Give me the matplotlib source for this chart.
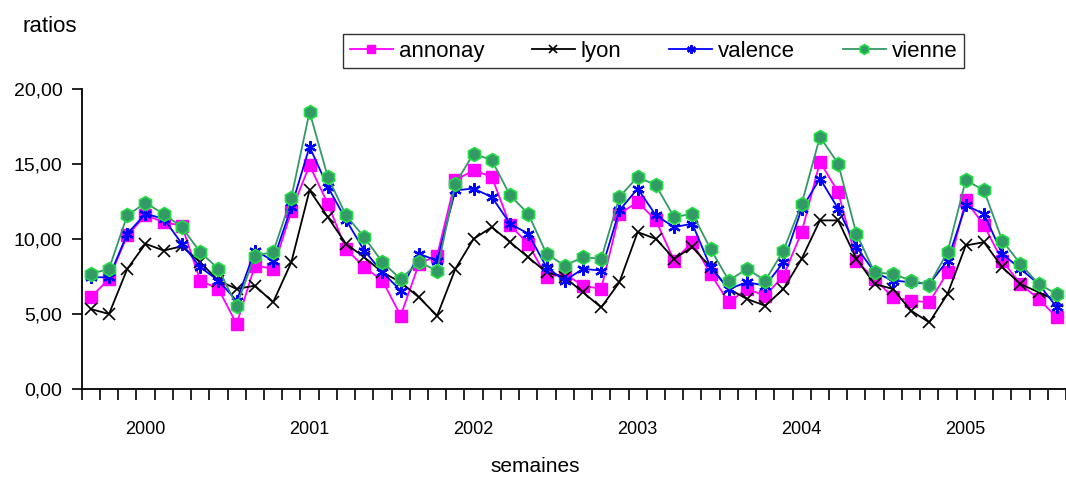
import numpy as np
import matplotlib.pyplot as plt

# valeurs (une valeur par periode)
annonay = [6.13, 7.36, 10.26, 11.6, 11.15, 10.9, 7.25, 6.69, 4.35, 8.25,
           8.03, 11.88, 14.94, 12.37, 9.36, 8.14, 7.25, 4.9, 8.36, 8.92,
           13.94, 14.6, 14.16, 10.93, 9.7, 7.47, 7.69, 6.91, 6.69, 11.7,
           12.49, 11.26, 8.58, 9.81, 7.69, 5.8, 6.69, 6.24, 7.58, 10.48,
           15.16, 13.15, 8.58, 7.36, 6.13, 5.91, 5.8, 7.8, 12.6, 10.93,
           8.58, 7.02, 6.02, 4.79]
lyon = [5.35, 5.02, 8.03, 9.7, 9.25, 9.54, 8.47, 7.25, 6.69, 6.91,
        5.8, 8.47, 13.27, 11.48, 9.7, 8.8, 7.8, 7.14, 6.13, 4.9,
        8.03, 10.03, 10.81, 9.81, 8.8, 7.8, 7.47, 6.47, 5.46, 7.14,
        10.48, 10.03, 8.7, 9.48, 8.14, 6.69, 6.02, 5.57, 6.69, 8.7,
        11.26, 11.26, 8.7, 7.02, 6.69, 5.24, 4.46, 6.35, 9.59, 9.81,
        8.14, 7.02, 6.47, 5.91]
valence = [7.47, 7.47, 10.37, 11.7, 11.37, 9.7, 8.14, 7.25, 5.9, 9.25,
           8.58, 12.15, 16.17, 13.5, 11.3, 9.25, 7.8, 6.58, 9.03, 8.58,
           13.27, 13.38, 12.82, 11.04, 10.37, 8.14, 7.25, 8.03, 7.92, 11.93,
           13.38, 11.6, 10.81, 11.04, 8.14, 6.69, 7.14, 6.91, 8.47, 12.04,
           14.05, 12.04, 9.48, 7.8, 7.25, 7.14, 7.02, 8.58, 12.26, 11.7,
           9.03, 8.03, 7.02, 5.46]
vienne = [7.69, 8.03, 11.6, 12.42, 11.7, 10.8, 9.14, 8.03, 5.57, 8.92,
          9.14, 12.78, 18.5, 14.16, 11.6, 10.14, 8.47, 7.36, 8.47, 7.92,
          13.71, 15.72, 15.27, 12.93, 11.7, 9.03, 8.25, 8.8, 8.7, 12.82,
          14.16, 13.6, 11.48, 11.7, 9.36, 7.25, 8.03, 7.25, 9.25, 12.37,
          16.83, 15.05, 10.37, 7.8, 7.69, 7.25, 6.98, 9.14, 13.94, 13.27,
          9.92, 8.36, 7.02, 6.35]
annees = ['2000', '2001', '2002', '2003', '2004', '2005']
yticks = [0, 5, 10, 15, 20]

plt.rcParams['font.family'] = ['Liberation Sans', 'DejaVu Sans']

x = np.arange(len(annonay))

fig = plt.figure(figsize=(10.66, 4.8), dpi=100)
ax = fig.add_axes([81.7 / 1066, 1 - 389.3 / 480, 1 - 81.7 / 1066,
                   (389.3 - 89.3) / 480])

ax.plot(x, annonay, color='#FF00FF', lw=1.3, marker='s', ms=9,
        mfc='#FF00FF', mec='#FF00FF', label='annonay')
ax.plot(x, lyon, color='black', lw=1.3, marker='x', ms=8, mew=1.2,
        label='lyon')
ax.plot(x, valence, color='#0000FF', lw=1.3, marker=(6, 2, 0),
        ms=9, mew=1.6, mec='#0000FF', label='valence')
ax.plot(x, vienne, color='#339966', lw=1.3, marker='h', ms=10,
        mfc='#339966', mec='#22DD44', mew=1.2, label='vienne')

ax.set_xlim(-0.5, 53.2)
ax.set_ylim(0, 20)

# graduations : une par periode, libelles des annees a part
ax.set_xticks(np.arange(len(annonay) + 1) - 0.5)
ax.set_xticklabels([])
ax.tick_params(axis='x', which='major', direction='out', length=8,
               width=1.2, color='black')
ax.set_xticks([3 + 9 * k for k in range(len(annees))], minor=True)
ax.set_xticklabels(annees, minor=True, fontsize=13)
ax.tick_params(axis='x', which='minor', length=0, pad=23)

ax.set_yticks(yticks)
ax.set_yticklabels(['%d,00' % v for v in yticks], fontsize=14)
ax.tick_params(axis='y', direction='out', length=7, width=1.2, pad=7)

for s in ['top', 'right']:
    ax.spines[s].set_visible(False)
ax.spines['left'].set_linewidth(1.3)
ax.spines['bottom'].set_linewidth(1.3)

fig.text(50 / 1066, 1 - 27 / 480, 'ratios', fontsize=16, ha='center',
         va='center')
fig.text(535 / 1066, 1 - 467 / 480, 'semaines', fontsize=15, ha='center',
         va='center')

leg = fig.legend(loc='upper left', bbox_to_anchor=(343 / 1066, 1 - 34 / 480),
                 borderaxespad=0, ncol=4, fontsize=16, frameon=True,
                 fancybox=False, edgecolor='black', handlelength=1.93,
                 columnspacing=2.15, handletextpad=0.27, borderpad=0.3,
                 markerscale=0.7)
leg.get_frame().set_linewidth(1)

fig.savefig('out.png', dpi=100)
